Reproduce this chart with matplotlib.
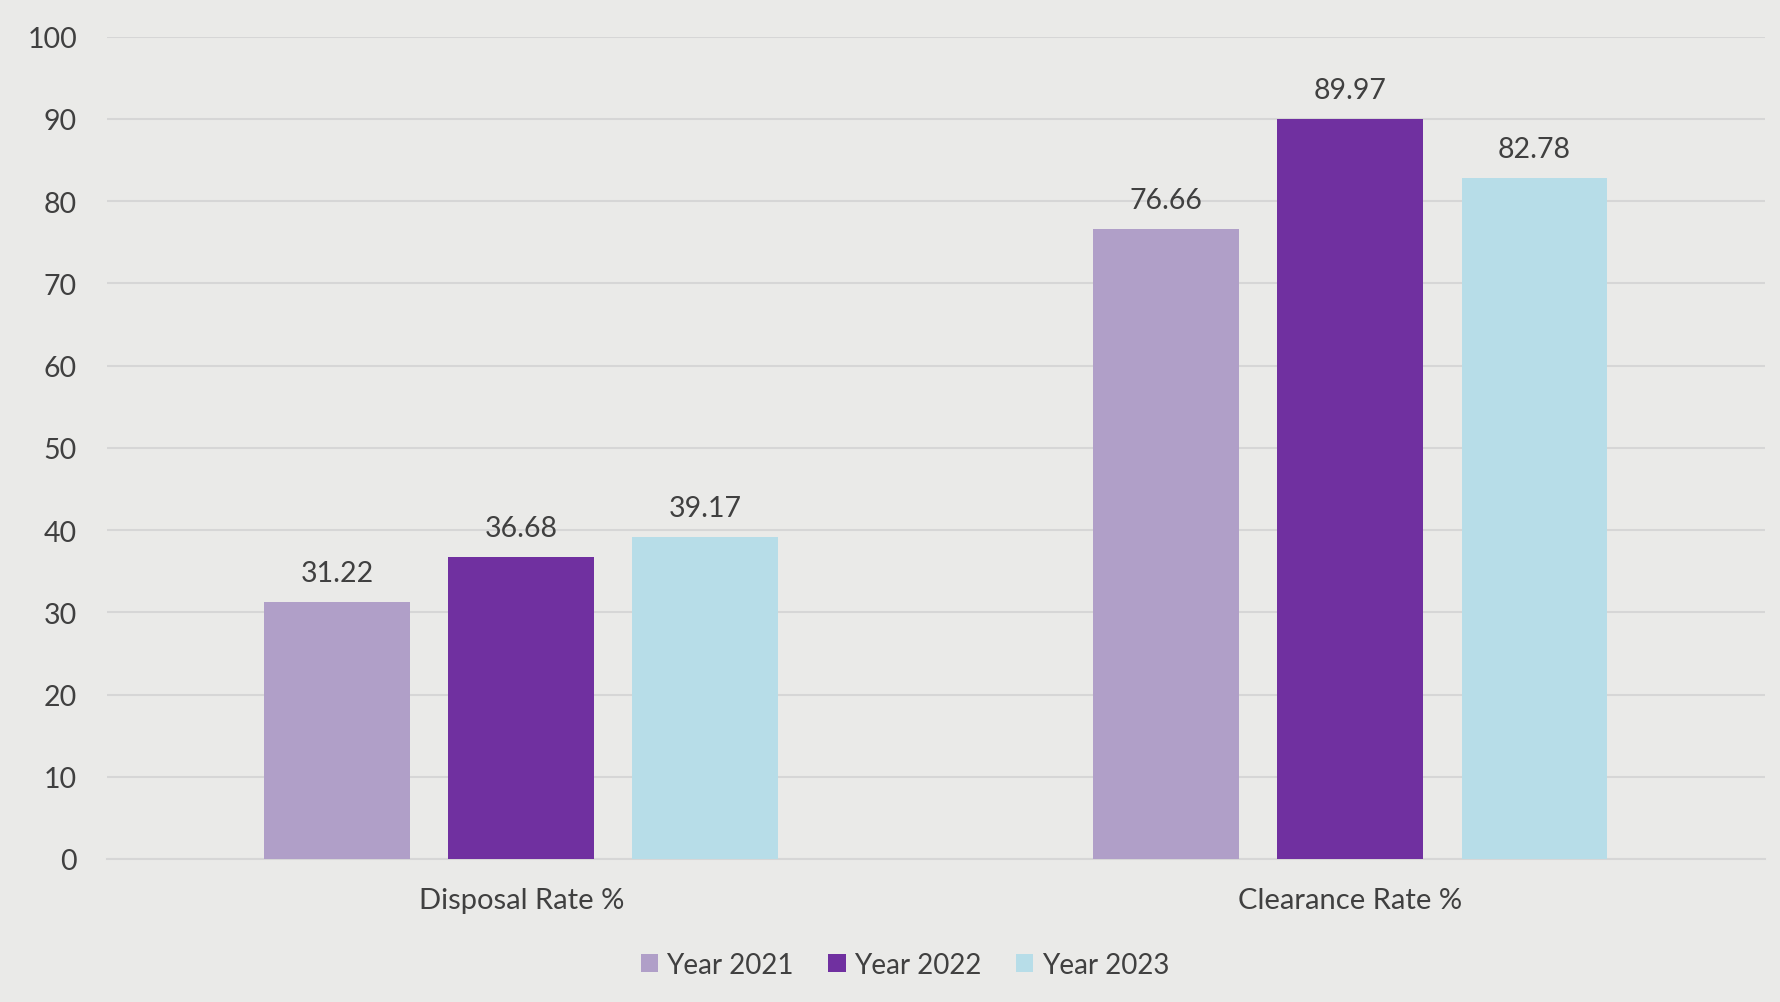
import numpy as np
import matplotlib
matplotlib.use("Agg")
import matplotlib.pyplot as plt
from matplotlib.patches import Patch

plt.rcParams['font.family'] = ['Lato', 'DejaVu Sans']

categories = ['Disposal Rate %', 'Clearance Rate %']
series_names = ['Year 2021', 'Year 2022', 'Year 2023']
values_2021 = [31.22, 76.66]
values_2022 = [36.68, 89.97]
values_2023 = [39.17, 82.78]
colors = ['#B09FC8', '#7030A0', '#B7DDE8']

text_color = '#404040'
bg_color = '#EAEAE8'

fig = plt.figure(figsize=(17.81, 10.03), dpi=100, facecolor=bg_color)
ax = fig.add_axes([0.060, 0.1426, 0.931, 0.8198])
ax.set_facecolor('none')

x = np.arange(len(categories))
step = 0.222
width = 0.176
series = [values_2021, values_2022, values_2023]

for i, (vals, name, col) in enumerate(zip(series, series_names, colors)):
    bars = ax.bar(x + (i - 1) * step, vals, width, color=col, label=name, zorder=3)
    for b, v in zip(bars, vals):
        ax.annotate(f'{v:.2f}', (b.get_x() + b.get_width() / 2, v),
                    xytext=(0, 11.5), textcoords='offset points',
                    ha='center', va='bottom', fontsize=20.5, color=text_color)

ax.set_xlim(-0.5, 1.5)
ax.set_ylim(0, 100)
ax.set_yticks(range(0, 101, 10))
ax.set_xticks(x)
ax.set_xticklabels(categories)
ax.grid(axis='y', color='#D6D6D6', linewidth=1.5, zorder=0)
ax.tick_params(axis='y', length=0, pad=21.5, labelsize=20.5, labelcolor=text_color)
ax.tick_params(axis='x', length=0, pad=20, labelsize=21, labelcolor=text_color)
for s in ['top', 'right', 'left']:
    ax.spines[s].set_visible(False)
ax.spines['bottom'].set_color('#D6D6D6')
ax.spines['bottom'].set_linewidth(1.5)

handles = [Patch(facecolor=c, label=n) for c, n in zip(colors, series_names)]
fig.legend(handles=handles, loc='center', bbox_to_anchor=(0.508, 0.037), ncol=3,
           frameon=False, fontsize=20, labelcolor=text_color,
           handlelength=0.62, handleheight=0.62, handletextpad=0.3,
           columnspacing=1.25)

fig.savefig('out.png', dpi=100, facecolor=bg_color)
